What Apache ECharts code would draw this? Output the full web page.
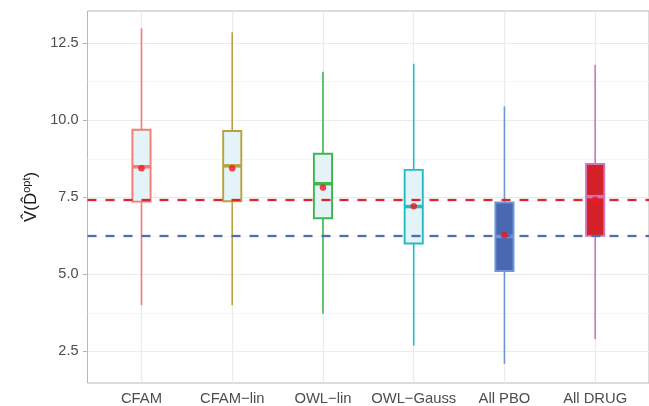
<!DOCTYPE html>
<html><head><meta charset="utf-8">
<script src="https://cdn.jsdelivr.net/npm/echarts@6/dist/echarts.min.js"></script>
<style>html,body{margin:0;padding:0;background:#fff}#c{width:649px;height:406px}</style>
</head><body><div id="c"></div>
<script>
const categories = ['CFAM', 'CFAM\u2212lin', 'OWL\u2212lin', 'OWL\u2212Gauss', 'All PBO', 'All DRUG'];
const whiskerLow  = [4.00, 4.00, 3.73, 2.69, 2.10, 2.90];
const q1          = [7.36, 7.37, 6.82, 6.00, 5.11, 6.25];
const median      = [8.49, 8.52, 7.94, 7.20, 6.23, 7.52];
const q3          = [9.69, 9.65, 8.91, 8.39, 7.33, 8.58];
const whiskerHigh = [12.98, 12.85, 11.57, 11.83, 10.45, 11.79];
const means       = [8.44, 8.44, 7.82, 7.21, 6.28, 7.42];
const refDrug = 7.41;
const refPbo = 6.24;
const yTicks = [2.5, 5.0, 7.5, 10.0, 12.5];
const yMinor = [3.75, 6.25, 8.75, 11.25];
const xPositions = [1, 2, 3, 4, 5, 6];

const lineColors = ['#F47C75', '#B9A23E', '#3DB84E', '#22BDC2', '#6F97D8', '#D174B6'];
const fillColors = ['#E3F3F7', '#E3F3F7', '#E3F3F7', '#E3F3F7', '#4A67B1', '#D42128'];

const boxData = xPositions.map((x, i) => [x, whiskerLow[i], q1[i], median[i], q3[i], whiskerHigh[i]]);
const meanData = xPositions.map((x, i) => [x, means[i]]);

const FONT = "'Liberation Sans', Arial, sans-serif";

const gridMarks = [];
yMinor.forEach(v => gridMarks.push({ yAxis: v, lineStyle: { color: '#F2F2F2', width: 0.8, type: 'solid' } }));
yTicks.forEach(v => gridMarks.push({ yAxis: v, lineStyle: { color: '#EBEBEB', width: 1.2, type: 'solid' } }));
xPositions.forEach(v => gridMarks.push({ xAxis: v, lineStyle: { color: '#EBEBEB', width: 1.2, type: 'solid' } }));

const option = {
  animation: false,
  backgroundColor: '#fff',
  grid: { left: 87.5, top: 11, right: -2, bottom: 21, show: true, borderColor: '#B8B8B8', borderWidth: 1, backgroundColor: 'transparent' },
  xAxis: {
    type: 'value', min: 0.405, max: 6.593,
    axisLine: { show: false },
    splitLine: { show: false },
    axisTick: { show: false },
    axisLabel: {
      customValues: xPositions,
      formatter: v => categories[Math.round(v) - 1] || '',
      color: '#4D4D4D', fontSize: 14.8, fontFamily: FONT, margin: 8
    }
  },
  yAxis: {
    type: 'value', min: 1.477, max: 13.542,
    axisLine: { show: false },
    splitLine: { show: false },
    axisTick: { show: true, customValues: yTicks, length: 4.5, lineStyle: { color: '#B3B3B3', width: 1 } },
    axisLabel: {
      customValues: yTicks,
      formatter: v => v.toFixed(1),
      color: '#4D4D4D', fontSize: 14.5, fontFamily: FONT, margin: 9
    },
    name: '{a|V\u0302(D\u0302}{s|opt}{a|)}',
    nameLocation: 'middle',
    nameGap: 47,
    nameTextStyle: {
      rich: {
        a: { fontSize: 17, fontFamily: FONT, color: '#1A1A1A' },
        s: { fontSize: 11, fontFamily: FONT, color: '#1A1A1A', verticalAlign: 'top', padding: [0, 0, 7, 0] }
      }
    }
  },
  series: [
    {
      type: 'line', data: [], z: 0, silent: true,
      markLine: { z: 0, silent: true, symbol: ['none', 'none'], label: { show: false }, animation: false, data: gridMarks }
    },
    {
      type: 'custom', z: 2, data: boxData,
      renderItem: function (params, api) {
        const i = params.dataIndex;
        const x = api.value(0);
        const pLow = api.coord([x, api.value(1)]);
        const pQ1 = api.coord([x, api.value(2)]);
        const pMed = api.coord([x, api.value(3)]);
        const pQ3 = api.coord([x, api.value(4)]);
        const pHigh = api.coord([x, api.value(5)]);
        const hw = api.size([0.1, 0])[0];
        const cx = pMed[0];
        const lc = lineColors[i];
        return {
          type: 'group',
          children: [
            { type: 'line', shape: { x1: cx, y1: pLow[1], x2: cx, y2: pQ1[1] }, style: { stroke: lc, lineWidth: 1.6 } },
            { type: 'line', shape: { x1: cx, y1: pQ3[1], x2: cx, y2: pHigh[1] }, style: { stroke: lc, lineWidth: 1.6 } },
            { type: 'rect', shape: { x: cx - hw, y: pQ3[1], width: 2 * hw, height: pQ1[1] - pQ3[1] }, style: { fill: fillColors[i], stroke: lc, lineWidth: 1.9 } },
            { type: 'line', shape: { x1: cx - hw, y1: pMed[1], x2: cx + hw, y2: pMed[1] }, style: { stroke: lc, lineWidth: 3.5 } }
          ]
        };
      }
    },
    {
      type: 'line', data: [], z: 3, silent: true,
      markLine: {
        z: 3, silent: true, symbol: ['none', 'none'], label: { show: false }, animation: false,
        data: [
          { yAxis: refDrug, lineStyle: { color: '#D7262C', width: 2.3, type: [9, 9] } },
          { yAxis: refPbo, lineStyle: { color: '#4E6DB5', width: 2.3, type: [9, 9] } }
        ]
      }
    },
    {
      type: 'scatter', z: 4, data: meanData, symbol: 'circle', symbolSize: 6.5,
      itemStyle: { color: '#F2171E' }, silent: true
    }
  ]
};
const chart = echarts.init(document.getElementById('c'), null, { renderer: 'canvas' });
chart.setOption(option);
</script>
</body></html>
